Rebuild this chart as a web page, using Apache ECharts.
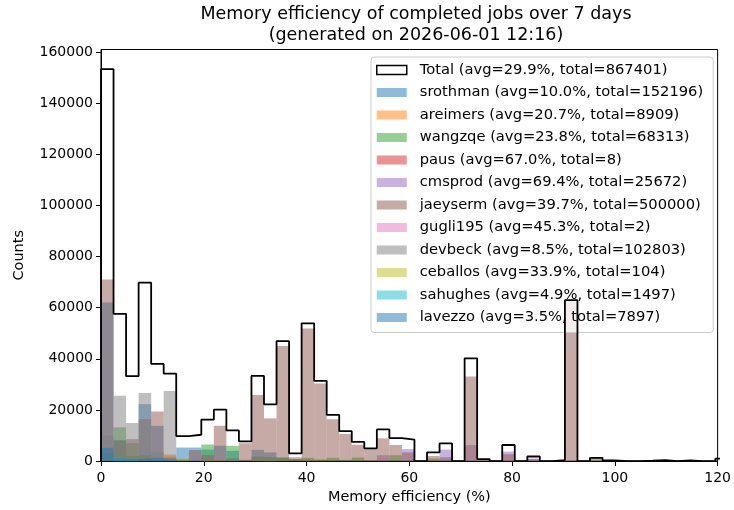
<!DOCTYPE html>
<html><head><meta charset="utf-8">
<script src="https://cdn.jsdelivr.net/npm/echarts@6/dist/echarts.min.js"></script>
<style>html,body{margin:0;padding:0;background:#fff}#c{width:734px;height:510px}</style>
</head><body><div id="c"></div>
<script>
// Histogram: 50 bins of width 2.44 (0 .. 122), x axis shown 0..120
const BIN_WIDTH = 2.44;
const NUM_BINS = 50;
const xTicks = [0, 20, 40, 60, 80, 100, 120];
const yTicks = [0, 20000, 40000, 60000, 80000, 100000, 120000, 140000, 160000];

const total = [153350,57600,33200,69800,38000,34200,9800,10300,16200,20100,
  12000,7700,33300,22200,46900,3000,53900,31400,18100,11700,
  7500,5000,12400,9000,8400,0,3400,6900,0,40200,
  800,0,6300,0,1800,0,400,63000,0,1300,
  250,0,0,150,400,0,250,0,0,1000];
const srothman = [62000,8200,2000,22300,13800,1800,5300,5300,4500,6000,
  4000,500,4400,3400,1500,800,500,500,300,300,
  200,100,300,200,0,0,0,0,0,0,
  0,0,0,0,0,0,0,0,0,0,
  0,0,0,0,0,0,0,0,0,0];
const areimers = [0,0,800,500,500,2600,1000,0,500,500,
  0,0,400,300,300,0,300,300,0,0,
  0,0,0,0,0,0,0,0,0,0,
  0,0,0,0,0,0,0,0,0,0,
  0,0,0,0,0,0,0,0,0,0];
const wangzqe = [3000,13200,7000,2300,500,600,500,0,6500,0,
  6000,0,1800,1600,1200,700,1300,600,1300,500,
  1400,200,500,2300,300,0,1000,500,0,0,
  0,0,0,0,0,0,0,0,0,0,
  0,0,0,0,0,0,0,0,0,0];
const paus = [0,0,0,0,0,0,0,0,0,0,
  0,0,0,0,0,0,0,0,0,0,
  0,0,0,0,0,0,0,8,0,0,
  0,0,0,0,0,0,0,0,0,0,
  0,0,0,0,0,0,0,0,0,0];
const cmsprod = [0,0,0,0,0,0,0,0,0,0,
  0,0,0,0,0,0,0,0,0,0,
  0,0,2300,0,4700,0,0,4500,0,6300,
  0,0,3700,0,1000,0,0,0,0,0,
  0,0,0,0,0,0,0,0,0,0];
const jaeyserm = [71000,8000,8600,16400,19400,1200,0,4300,2300,13800,
  1000,7000,25900,16700,45000,1500,51900,30400,16400,10600,
  6400,4700,8900,6300,3400,0,2000,1500,0,33100,
  800,0,2700,0,800,0,400,63000,0,1300,
  250,0,0,150,400,0,250,0,0,1000];
const gugli195 = [0,0,0,0,0,0,0,0,0,0,
  0,0,0,0,0,0,0,0,2,0,
  0,0,0,0,0,0,0,0,0,0,
  0,0,0,0,0,0,0,0,0,0,
  0,0,0,0,0,0,0,0,0,0];
const devbeck = [10000,25600,14900,26600,3500,27400,500,700,2300,300,
  1000,200,1000,500,300,0,0,0,0,0,
  0,0,0,0,0,0,0,0,0,0,
  0,0,0,0,0,0,0,0,0,0,
  0,0,0,0,0,0,0,0,0,0];
const ceballos = [0,0,0,0,0,0,0,0,0,0,
  0,0,0,104,0,0,0,0,0,0,
  0,0,0,0,0,0,0,0,0,0,
  0,0,0,0,0,0,0,0,0,0,
  0,0,0,0,0,0,0,0,0,0];
const sahughes = [0,1000,400,0,0,0,0,0,0,0,
  0,0,0,0,0,0,0,0,0,0,
  0,0,0,0,0,0,0,0,0,0,
  0,0,0,0,0,0,0,0,0,0,
  0,0,0,0,0,0,0,0,0,0];
const lavezzo = [5200,1000,700,1000,1300,600,0,0,0,0,
  0,0,0,0,0,0,0,0,0,0,
  0,0,0,0,0,0,0,0,0,0,
  0,0,0,0,0,0,0,0,0,0,
  0,0,0,0,0,0,0,0,0,0];

const totalLabel = 'Total (avg=29.9%, total=867401)';
const users = [
  {name: 'srothman (avg=10.0%, total=152196)', data: srothman, color: 'rgba(31,119,180,0.5)'},
  {name: 'areimers (avg=20.7%, total=8909)', data: areimers, color: 'rgba(255,127,14,0.5)'},
  {name: 'wangzqe (avg=23.8%, total=68313)', data: wangzqe, color: 'rgba(44,160,44,0.5)'},
  {name: 'paus (avg=67.0%, total=8)', data: paus, color: 'rgba(214,39,40,0.5)'},
  {name: 'cmsprod (avg=69.4%, total=25672)', data: cmsprod, color: 'rgba(148,103,189,0.5)'},
  {name: 'jaeyserm (avg=39.7%, total=500000)', data: jaeyserm, color: 'rgba(140,86,75,0.5)'},
  {name: 'gugli195 (avg=45.3%, total=2)', data: gugli195, color: 'rgba(227,119,194,0.5)'},
  {name: 'devbeck (avg=8.5%, total=102803)', data: devbeck, color: 'rgba(127,127,127,0.5)'},
  {name: 'ceballos (avg=33.9%, total=104)', data: ceballos, color: 'rgba(188,189,34,0.5)'},
  {name: 'sahughes (avg=4.9%, total=1497)', data: sahughes, color: 'rgba(23,190,207,0.5)'},
  {name: 'lavezzo (avg=3.5%, total=7897)', data: lavezzo, color: 'rgba(31,119,180,0.5)'}
];

const FONT = 'DejaVu Sans';
const edge = k => +(k * BIN_WIDTH).toFixed(4);

function makeRender(color) {
  return function (params, api) {
    const x0 = api.value(0), x1 = api.value(1), v = api.value(2);
    const p0 = api.coord([x0, v]);
    const p1 = api.coord([x1, 0]);
    const cs = params.coordSys;
    const shape = echarts.graphic.clipRectByRect(
      {x: p0[0], y: p0[1], width: p1[0] - p0[0], height: p1[1] - p0[1]},
      {x: cs.x, y: cs.y, width: cs.width, height: cs.height});
    return shape && {type: 'rect', shape: shape, style: {fill: color}};
  };
}

const series = users.map(u => ({
  type: 'custom',
  name: u.name,
  renderItem: makeRender(u.color),
  encode: {x: [0, 1], y: 2},
  itemStyle: {color: u.color},
  data: u.data.map((v, k) => [edge(k), edge(k + 1), v]).filter(d => d[2] > 0),
  z: 2
}));

const totalPts = [[0, 0]];
total.forEach((v, k) => totalPts.push([edge(k), v]));
totalPts.push([edge(NUM_BINS), total[NUM_BINS - 1]]);
totalPts.push([edge(NUM_BINS), 0]);

series.push({
  type: 'line',
  name: totalLabel,
  data: totalPts,
  step: 'end',
  symbol: 'none',
  showSymbol: false,
  clip: true,
  lineStyle: {color: '#000', width: 1.8},
  itemStyle: {color: '#000'},
  z: 5
});

const legendData = [{name: totalLabel, icon: 'rect', itemStyle: {color: '#ffffff', borderColor: '#000', borderWidth: 1.5}}]
  .concat(users.map(u => ({name: u.name, icon: 'rect', itemStyle: {color: u.color}})));

const chart = echarts.init(document.getElementById('c'), null, {renderer: 'canvas'});
chart.setOption({
  animation: false,
  backgroundColor: '#fff',
  title: {
    text: 'Memory efficiency of completed jobs over 7 days\n(generated on 2026-06-01 12:16)',
    left: 416, top: 4, padding: 0, textAlign: 'center',
    textStyle: {fontFamily: FONT, fontSize: 17.5, fontWeight: 'normal', color: '#000', lineHeight: 21}
  },
  legend: {
    orient: 'vertical', left: 371, top: 57,
    padding: [5, 10, 7, 5],
    itemWidth: 30, itemHeight: 9, itemGap: 6.5,
    backgroundColor: 'rgba(255,255,255,0.8)',
    borderColor: '#cccccc', borderWidth: 1, borderRadius: 3,
    selectedMode: false,
    textStyle: {fontFamily: FONT, fontSize: 14.7, color: '#000', lineHeight: 16, padding: [0, 0, 0, 8]},
    data: legendData
  },
  grid: {left: 101, right: 13, top: 49.5, bottom: 48, show: true, borderColor: '#000', borderWidth: 1, backgroundColor: 'transparent'},
  xAxis: {
    type: 'value', min: 0, max: 120, interval: 20,
    axisLine: {show: true, onZero: false, lineStyle: {color: '#000', width: 1}},
    axisTick: {show: true, length: 5, lineStyle: {color: '#000', width: 1}, customValues: xTicks},
    axisLabel: {color: '#000', fontSize: 14, fontFamily: FONT, margin: 10, customValues: xTicks},
    splitLine: {show: false},
    name: 'Memory efficiency (%)', nameLocation: 'middle', nameGap: 25,
    nameTextStyle: {fontFamily: FONT, fontSize: 14.5, color: '#000'}
  },
  yAxis: {
    type: 'value', min: 0, max: 161000, interval: 20000,
    axisLine: {show: true, onZero: false, lineStyle: {color: '#000', width: 1}},
    axisTick: {show: true, length: 5, lineStyle: {color: '#000', width: 1}, customValues: yTicks},
    axisLabel: {color: '#000', fontSize: 14, fontFamily: FONT, margin: 8, customValues: yTicks, formatter: v => String(v)},
    splitLine: {show: false},
    name: 'Counts', nameLocation: 'middle', nameGap: 74,
    nameTextStyle: {fontFamily: FONT, fontSize: 14.5, color: '#000'}
  },
  series: series
});
</script>
</body></html>
